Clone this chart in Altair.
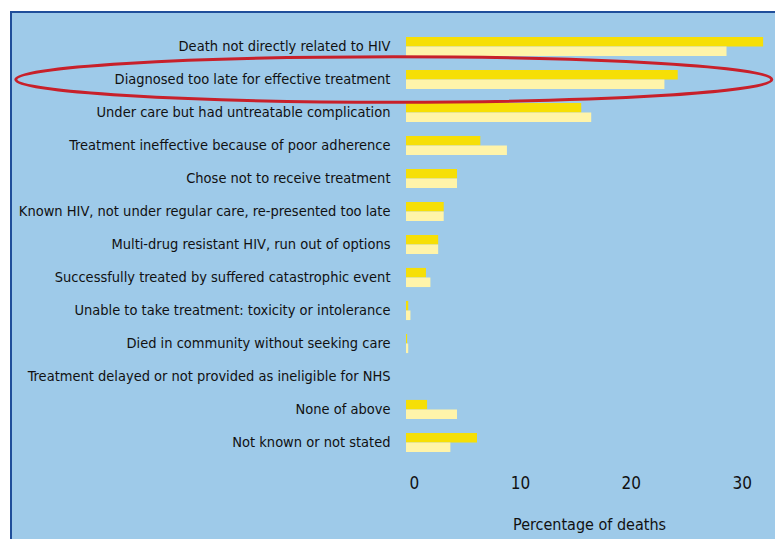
import altair as alt
import pandas as pd

categories = [
    "Death not directly related to HIV",
    "Diagnosed too late for effective treatment",
    "Under care but had untreatable complication",
    "Treatment ineffective because of poor adherence",
    "Chose not to receive treatment",
    "Known HIV, not under regular care, re-presented too late",
    "Multi-drug resistant HIV, run out of options",
    "Successfully treated by suffered catastrophic event",
    "Unable to take treatment: toxicity or intolerance",
    "Died in community without seeking care",
    "Treatment delayed or not provided as ineligible for NHS",
    "None of above",
    "Not known or not stated",
]
series_a = [32.2, 24.5, 15.8, 6.7, 4.6, 3.4, 2.9, 1.8, 0.2, 0.1, 0.0, 1.9, 6.4]
series_b = [28.9, 23.3, 16.7, 9.1, 4.6, 3.4, 2.9, 2.2, 0.4, 0.2, 0.0, 4.6, 4.0]
series_names = ["Series A", "Series B"]
highlight = "Diagnosed too late for effective treatment"

rows = []
for c, a, b in zip(categories, series_a, series_b):
    rows.append({"cause": c, "series": series_names[0], "pct": a})
    rows.append({"cause": c, "series": series_names[1], "pct": b})
df = pd.DataFrame(rows)

FONT = "DejaVu Sans Condensed"
BLUE = "#9ecae9"

xscale = alt.Scale(domain=[0, 33], nice=False, zero=True)
yscale = alt.Scale(domain=categories, paddingInner=0.42, paddingOuter=0.21)

panel = alt.Chart(pd.DataFrame({"k": [0]})).mark_rect(
    fill=BLUE, stroke="#1f4e9a", strokeWidth=2
).encode(
    x=alt.value(-395), x2=alt.value(420), y=alt.value(-18), y2=alt.value(560)
)

bars = alt.Chart(df).mark_bar(cornerRadius=0).encode(
    y=alt.Y("cause:N", scale=yscale, sort=categories,
            axis=alt.Axis(title=None, ticks=False, domain=False, labelFont=FONT,
                          labelFontSize=14.5, labelColor="#111111", labelPadding=16,
                          labelLimit=0, zindex=1)),
    yOffset=alt.YOffset("series:N", sort=series_names),
    x=alt.X("pct:Q", scale=xscale,
            axis=alt.Axis(title="Percentage of deaths", values=[0, 10, 20, 30],
                          ticks=False, domain=False, grid=False, labelFont=FONT,
                          labelFontSize=17, labelColor="#111111", labelPadding=16,
                          labelOffset=3, titleFont=FONT, titleFontSize=16,
                          titleFontWeight="normal", titleColor="#111111",
                          titlePadding=25, zindex=1)),
    color=alt.Color("series:N", scale=alt.Scale(domain=series_names,
                                                range=["#f6df06", "#fff4aa"]),
                    legend=None),
)

ellipse = alt.Chart(pd.DataFrame({"cause": [highlight], "x": [-1.1]})).mark_point(
    shape="M -1 0 A 1 0.06 0 1 0 1 0 A 1 0.06 0 1 0 -1 0 Z",
    filled=False, stroke="#c8202a", strokeWidth=3, opacity=1,
).encode(
    x=alt.X("x:Q", scale=xscale),
    y=alt.Y("cause:N", scale=yscale, sort=categories),
    size=alt.value(756 * 756),
)

chart = alt.layer(panel, bars, ellipse).properties(
    width=366, height=429,
    autosize=alt.AutoSizeParams(type="none"),
    padding={"left": 406, "top": 30, "right": 3, "bottom": 80},
    background="white",
).configure_view(stroke=None)

chart.save("out.html", embed_options={"renderer": "svg", "actions": False})
